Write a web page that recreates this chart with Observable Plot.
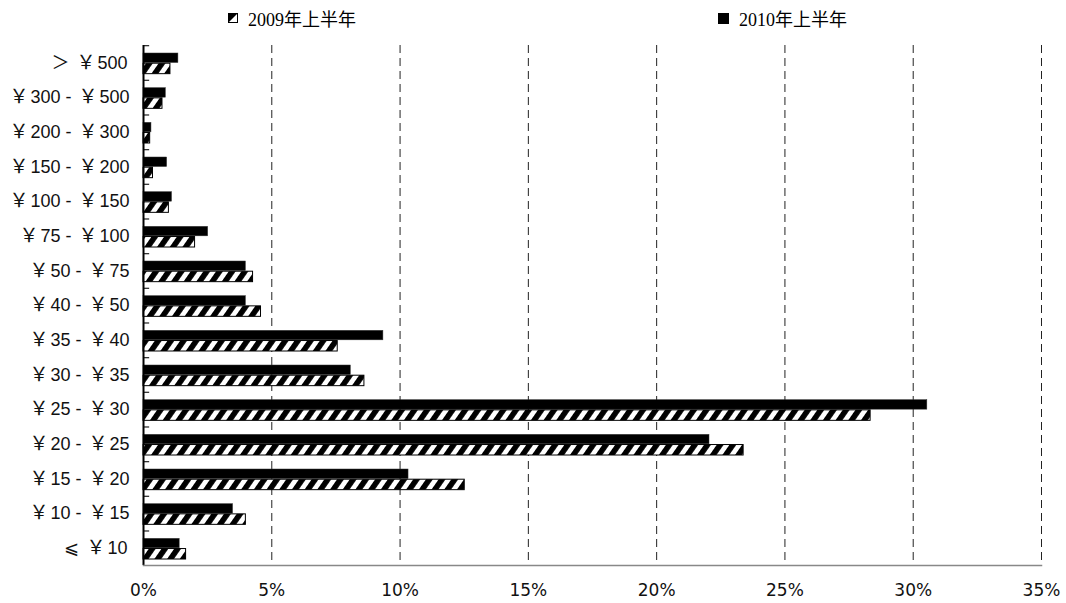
<!DOCTYPE html>
<html><head><meta charset="utf-8">
<script src="https://cdn.jsdelivr.net/npm/d3@7"></script>
<script src="https://cdn.jsdelivr.net/npm/@observablehq/plot@0.6"></script>
<style>
body{margin:0;background:#fff;}
#legend{position:relative;height:36px;width:1066px;font-family:"Liberation Serif","Noto Sans CJK SC",serif;font-size:18px;color:#000;}
.item{position:absolute;top:6px;height:24px;display:flex;align-items:center;white-space:nowrap;}
.item svg{margin-right:10px;}
</style></head><body>
<div id="legend"></div>
<div id="chart"></div>
<script>
const categories = ["＞ ￥500","￥300 - ￥500","￥200 - ￥300","￥150 - ￥200","￥100 - ￥150","￥75 - ￥100","￥50 - ￥75","￥40 - ￥50","￥35 - ￥40","￥30 - ￥35","￥25 - ￥30","￥20 - ￥25","￥15 - ￥20","￥10 - ￥15","⩽ ￥10"];
const values2009 = [1.05,0.74,0.26,0.37,0.99,2.01,4.27,4.58,7.57,8.61,28.34,23.39,12.52,3.99,1.66];
const values2010 = [1.36,0.87,0.31,0.92,1.11,2.52,3.99,3.99,9.35,8.08,30.55,22.06,10.33,3.49,1.41];
const xTicks = [0,5,10,15,20,25,30,35];
const gridTicks = [5,10,15,20,25,30,35];
const seriesNames = ["2009年上半年","2010年上半年"];

const data = categories.map((c,i)=>({cat:c, v2009:values2009[i], v2010:values2010[i]}));

const W = 1066, H = 567, mT = 9, mB = 38, mL = 143, mR = 25;
const bw = (H - mT - mB) / categories.length;

const svg = Plot.plot({
  width: W, height: H,
  marginTop: mT, marginBottom: mB, marginLeft: mL, marginRight: mR,
  style: {background:"#fff", fontFamily:"'Liberation Sans','Noto Sans CJK SC',sans-serif", fontSize:"18px", color:"#111", overflow:"visible"},
  x: {domain:[0,35], nice:false, label:null},
  y: {domain: categories, padding:0, round:false, label:null},
  marks: [
    Plot.ruleX(gridTicks, {stroke:"#222", strokeWidth:1, strokeDasharray:"8,5"}),
    Plot.barX(data, {x:"v2010", y:"cat", fill:"#000", stroke:"#333", strokeWidth:0.5, insetTop:8, insetBottom:bw-17.5, ariaDescription:"b2010"}),
    Plot.barX(data, {x:"v2009", y:"cat", fill:"#fff", stroke:"#000", strokeWidth:1, insetTop:18.2, insetBottom:6, ariaDescription:"b2009"}),
    Plot.barX(categories, {x1:0, x2:0.24, y:d=>d, fill:"#333", insetTop:0, insetBottom:bw-1.3}),
    Plot.ruleX([0], {stroke:"#000", strokeWidth:2}),
    Plot.frame({anchor:"bottom", stroke:"#888", strokeWidth:1.5}),
    Plot.axisY({tickSize:0, tickPadding:16, fontSize:18, fill:"#111", label:null}),
    Plot.axisX({ticks:xTicks, tickSize:0, tickPadding:18, tickFormat:d=>d+"%", fontSize:17, fontFamily:"'DejaVu Sans',sans-serif", fill:"#111", label:null})
  ]
});

// hatch pattern
const ns = "http://www.w3.org/2000/svg";
const defs = document.createElementNS(ns,"defs");
defs.innerHTML = `<pattern id="hatch" patternUnits="userSpaceOnUse" width="10.4" height="10.4" patternTransform="rotate(35)"><rect width="10.4" height="10.4" fill="#fff"/><rect width="5.6" height="10.4" fill="#000"/></pattern>`;
svg.insertBefore(defs, svg.firstChild);
const g09 = svg.querySelector('g[aria-description="b2009"]');
if (g09) { g09.setAttribute("fill","url(#hatch)"); g09.querySelectorAll("rect").forEach(r=>r.setAttribute("fill","url(#hatch)")); }

// yen glyph styling in y tick labels
svg.querySelectorAll('g[aria-label="y-axis tick label"] text').forEach(t=>{
  const s = t.textContent;
  t.textContent = "";
  let afterYen = false;
  s.split(/(￥)/).forEach(p=>{
    if (!p) return;
    const ts = document.createElementNS(ns,"tspan");
    ts.textContent = p;
    if (p === "￥") {
      ts.setAttribute("font-family","'Noto Sans CJK SC'");
      ts.setAttribute("font-size","19");
      ts.setAttribute("dx","2");
      afterYen = true;
    } else if (afterYen) {
      ts.setAttribute("dx","2");
      afterYen = false;
    }
    t.appendChild(ts);
  });
});
document.getElementById("chart").appendChild(svg);

// legend
const lg = document.getElementById("legend");
const items = [
  {x:228, name:seriesNames[0], sw:`<svg width="10" height="10"><rect x="0.5" y="0.5" width="9" height="9" fill="#fff" stroke="#000"/><polygon points="0,0 10,0 0,10" fill="#000"/></svg>`},
  {x:718, name:seriesNames[1], sw:`<svg width="11" height="11"><rect width="11" height="11" fill="#000"/></svg>`}
];
items.forEach(it=>{
  const d = document.createElement("div");
  d.className="item"; d.style.left = it.x+"px";
  d.innerHTML = it.sw + `<span>${it.name}</span>`;
  lg.appendChild(d);
});
</script>
</body></html>
